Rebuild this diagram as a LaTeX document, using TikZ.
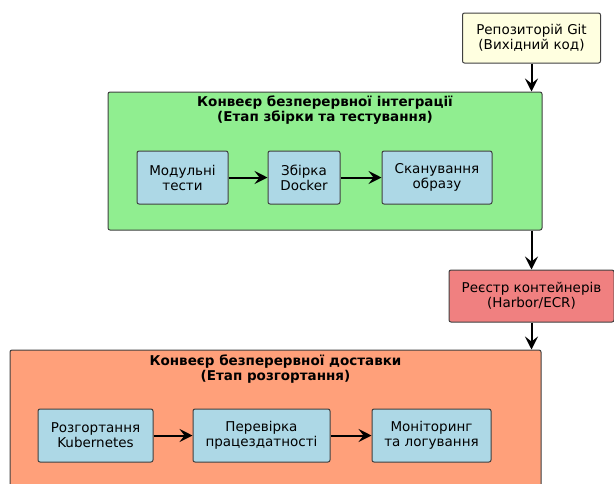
\documentclass[tikz,border=0pt]{standalone}
\usepackage{fontspec}
\setmainfont{DejaVu Sans}
\usetikzlibrary{arrows.meta, positioning}
\definecolor{cgreen}{HTML}{90EE90}
\definecolor{cblue}{HTML}{ADD8E6}
\definecolor{cred}{HTML}{F08080}
\definecolor{csalmon}{HTML}{FFA07A}
\definecolor{cyellow}{HTML}{FFFFE0}
\definecolor{cedge}{HTML}{404040}
\tikzset{
  every picture/.style={font=\fontsize{13.5}{15}\selectfont},
  box/.style={draw=cedge, fill=#1, rounded corners=2pt, align=center, inner sep=0pt, line width=1pt},
  box/.default=cblue,
  arrow/.style={-{Stealth[length=13pt, width=13pt, inset=5pt]}, line width=2pt},
  title/.style={font=\fontsize{13.5}{15}\selectfont\bfseries, align=center},
}

\begin{document}
\begin{tikzpicture}[x=1pt, y=-1pt]
  \useasboundingbox (0,0) rectangle (614,483);
  \clip (0,0) rectangle (614,483);
  % sources
  \node[box=cyellow, minimum width=138pt, minimum height=50pt] (git) at (531.5,38) {Репозиторій Git\\(Вихідний код)};
  % CI stage
  \node[box=cgreen, minimum width=434pt, minimum height=138pt] (ci) at (325,161) {};
  \node[title] (cititle) at (325,110) {Конвеєр безперервної інтеграції\\(Етап збірки та тестування)};
  \node[box, minimum width=91pt, minimum height=53pt] (unit) at (182.5,177.5) {Модульні\\тести};
  \node[box, minimum width=72pt, minimum height=53pt] (docker) at (304,177.5) {Збірка\\Docker};
  \node[box, minimum width=110pt, minimum height=53pt] (scan) at (437,177.5) {Сканування\\образу};
  % registry
  \node[box=cred, minimum width=165pt, minimum height=52pt] (reg) at (531.5,296) {Реєстр контейнерів\\(Harbor/ECR)};
  % CD stage
  \node[box=csalmon, minimum width=531pt, minimum height=170pt] (cd) at (275.5,435) {};
  \node[title] (cdtitle) at (275.5,369) {Конвеєр безперервної доставки\\(Етап розгортання)};
  \node[box, minimum width=115pt, minimum height=53pt] (k8s) at (95.5,435.5) {Розгортання\\Kubernetes};
  \node[box, minimum width=137pt, minimum height=53pt] (health) at (261.5,435.5) {Перевірка\\працездатності};
  \node[box, minimum width=119pt, minimum height=53pt] (mon) at (431.5,435.5) {Моніторинг\\та логування};
  \draw[arrow] (git) -- (git |- ci.north);
  \draw[arrow] (reg |- ci.south) -- (reg);
  \draw[arrow] (reg) -- (reg |- cd.north);
  \foreach \a/\b in {unit/docker, docker/scan, k8s/health, health/mon} \draw[arrow] (\a) -- (\b);
\end{tikzpicture}
\end{document}
